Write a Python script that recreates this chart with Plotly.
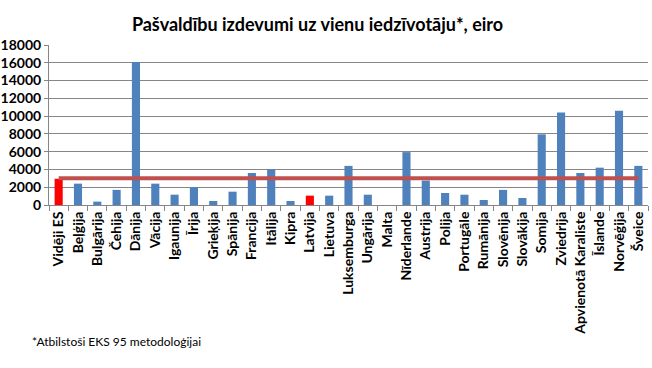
import plotly.graph_objects as go

categories = ["Vidēji ES", "Beļģija", "Bulgārija", "Čehija", "Dānija", "Vācija", "Igaunija",
              "Īrija", "Grieķija", "Spānija", "Francija", "Itālija", "Kipra", "Latvija",
              "Lietuva", "Luksemburga", "Ungārija", "Malta", "Nīderlande", "Austrija",
              "Polija", "Portugāle", "Rumānija", "Slovēnija", "Slovākija", "Somija",
              "Zviedrija", "Apvienotā Karaliste", "Īslande", "Norvēģija", "Šveice"]
values = [2950, 2400, 380, 1700, 16100, 2400, 1160, 2000, 450, 1500, 3600, 4010, 450, 1050,
          1050, 4400, 1160, 0, 5950, 2750, 1350, 1160, 560, 1700, 790, 7950, 10400, 3600,
          4200, 10600, 4400]
eu_average = 3000
highlight = ["Vidēji ES", "Latvija"]
y_ticks = [0, 2000, 4000, 6000, 8000, 10000, 12000, 14000, 16000, 18000]

colors = ["#FF0000" if c in highlight else "#4F81BD" for c in categories]

fig = go.Figure()
fig.add_trace(go.Bar(x=categories, y=values, marker=dict(color=colors, line=dict(width=0)),
                     width=0.42, showlegend=False))
fig.add_trace(go.Scatter(x=[categories[0], categories[-1]], y=[eu_average, eu_average],
                         mode="lines", line=dict(color="#C0504D", width=4), showlegend=False))

fig.update_layout(
    width=652, height=368,
    margin=dict(l=49, r=4, t=45, b=163),
    paper_bgcolor="white", plot_bgcolor="white",
    font=dict(family="Lato, Liberation Sans, sans-serif", color="black"),
    title=dict(text="<b>Pašvaldību izdevumi uz vienu iedzīvotāju*, eiro</b>",
               x=0.487, xanchor="center", y=0.932, yanchor="middle",
               font=dict(size=18, color="black")),
    xaxis=dict(type="category", tickangle=-90, tickfont=dict(size=14, color="black"),
               tickvals=categories, ticktext=[f"<b>{c}</b>" for c in categories],
               showline=True, linecolor="#868686", linewidth=1,
               ticks="outside", tickson="boundaries", ticklen=5, tickcolor="#868686",
               showgrid=False, range=[-0.5, len(categories) - 0.5], automargin=False),
    yaxis=dict(range=[0, 18000], tickvals=y_ticks, ticktext=[f"<b>{v}</b>" for v in y_ticks],
               tickfont=dict(size=14, color="black"),
               showgrid=True, gridcolor="#868686", gridwidth=1,
               showline=True, linecolor="#868686", linewidth=1,
               ticks="outside", ticklen=4, tickcolor="#868686", zeroline=False,
               automargin=False),
)

fig.add_annotation(text="*Atbilstoši EKS 95 metodoloģijai", xref="paper", yref="paper",
                   x=-0.032, y=-0.856, xanchor="left", yanchor="middle", showarrow=False,
                   font=dict(size=12, color="black"))

fig.write_html("out.html", config={"displayModeBar": False},
               post_script="document.body.style.margin='0';document.body.style.overflow='hidden';")
